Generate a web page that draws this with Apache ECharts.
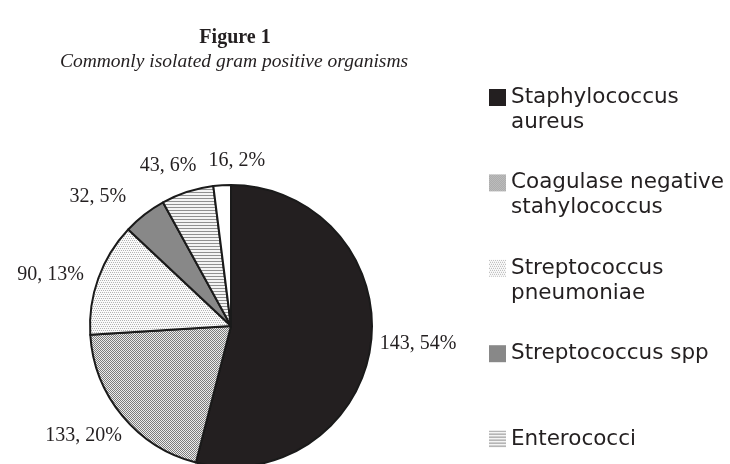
<!DOCTYPE html>
<html>
<head>
    <meta charset="utf-8">
    <title>Figure 1</title>
    <script src="https://cdn.jsdelivr.net/npm/echarts@6/dist/echarts.min.js"></script>
    <style>
        html, body { margin: 0; padding: 0; background: #fff; }
    </style>
</head>
<body>
    <div id="main" style="width: 730px;height:464px;"></div>
    <script type="text/javascript">
        // slice data, clockwise from 12 o'clock
        var names = ['Staphylococcus aureus', 'Coagulase negative stahylococcus', 'Streptococcus pneumoniae', 'Streptococcus spp', 'Enterococci', 'Others'];
        var counts = [143, 133, 90, 32, 43, 16];
        var percents = [54, 20, 13, 5, 6, 2];
        // legend text as printed (last slice has no legend entry visible)
        var legendLabels = ['Staphylococcus\naureus', 'Coagulase negative\nstahylococcus', 'Streptococcus\npneumoniae', 'Streptococcus spp', 'Enterococci'];

        // small canvas fill patterns, like the print version
        function makePattern(size, draw) {
            var c = document.createElement('canvas');
            c.width = size;
            c.height = size;
            var ctx = c.getContext('2d');
            draw(ctx, size);
            return { image: c, repeat: 'repeat' };
        }
        var checker = makePattern(4, function (ctx, s) {
            ctx.fillStyle = '#ececec';
            ctx.fillRect(0, 0, s, s);
            ctx.fillStyle = '#7c7c7c';
            for (var y = 0; y < s; y++) {
                for (var x = 0; x < s; x++) {
                    if ((x + y) % 2 === 0) ctx.fillRect(x, y, 1, 1);
                }
            }
        });
        var lightDots = makePattern(4, function (ctx, s) {
            ctx.fillStyle = '#fafafa';
            ctx.fillRect(0, 0, s, s);
            ctx.fillStyle = '#b4b4b4';
            for (var y = 0; y < s; y += 2) {
                for (var x = 0; x < s; x += 2) {
                    ctx.fillRect(x + (y / 2) % 2, y, 1, 1);
                }
            }
        });
        var stripes = makePattern(6, function (ctx, s) {
            ctx.fillStyle = '#f4f4f4';
            ctx.fillRect(0, 0, s, s);
            ctx.fillStyle = '#909090';
            ctx.fillRect(0, 0, s, 1);
            ctx.fillRect(0, 3, s, 1);
        });
        var fills = ['#231f20', checker, lightDots, '#888888', stripes, '#ffffff'];

        // per-slice label placement, mimicking the "outside end" labels of the original
        var labelTweaks = [
            { line: 4 },
            { line: 16, dist: -12, layout: { verticalAlign: 'top' } },
            { line: 10 },
            { line: 22 },
            { line: 27, dist: 11, layout: { align: 'center' } },
            { line: 25, dist: 12, layout: { align: 'left' } }
        ];

        var pieData = [];
        for (var i = 0; i < names.length; i++) {
            var item = {
                name: names[i],
                value: percents[i],
                itemStyle: { color: fills[i] },
                labelLine: { show: false, length: labelTweaks[i].line, length2: 0 }
            };
            if (labelTweaks[i].dist !== undefined) {
                item.label = { distanceToLabelLine: labelTweaks[i].dist };
            }
            pieData.push(item);
        }

        var legendData = [];
        for (var j = 0; j < legendLabels.length; j++) {
            legendData.push(names[j]);
        }

        var option = {
            animation: false,
            title: [{
                text: 'Figure 1',
                left: 235,
                top: 28,
                padding: 0,
                textAlign: 'center',
                textStyle: {
                    fontFamily: 'Liberation Serif',
                    fontWeight: 'bold',
                    fontSize: 20,
                    color: '#231f20'
                }
            }, {
                text: 'Commonly isolated gram positive organisms',
                left: 234,
                top: 52,
                padding: 0,
                textAlign: 'center',
                textStyle: {
                    fontFamily: 'Liberation Serif',
                    fontStyle: 'italic',
                    fontWeight: 'normal',
                    fontSize: 19.5,
                    color: '#231f20'
                }
            }],
            legend: {
                orient: 'vertical',
                left: 489,
                top: 60,
                height: 440,
                padding: 0,
                itemWidth: 17,
                itemHeight: 17,
                itemGap: 10.4,
                selectedMode: false,
                icon: 'rect',
                data: legendData,
                // blank line before (and after, for one-line names) keeps the
                // icon level with the first line of text
                formatter: function (name) {
                    var t = legendLabels[names.indexOf(name)];
                    return '\n' + t + (t.indexOf('\n') >= 0 ? '' : '\n');
                },
                itemStyle: { borderWidth: 0 },
                textStyle: {
                    fontFamily: 'DejaVu Sans',
                    fontSize: 21.5,
                    lineHeight: 25,
                    color: '#231f20'
                }
            },
            series: [{
                type: 'pie',
                center: [231, 326],
                radius: 141,
                startAngle: 90,
                clockwise: true,
                avoidLabelOverlap: false,
                data: pieData,
                itemStyle: {
                    borderColor: '#1a1a1a',
                    borderWidth: 2
                },
                emphasis: { disabled: true },
                label: {
                    show: true,
                    position: 'outside',
                    fontFamily: 'Liberation Serif',
                    fontSize: 20,
                    color: '#231f20',
                    formatter: function (p) {
                        return counts[p.dataIndex] + ', ' + p.value + '%';
                    }
                },
                labelLayout: function (p) {
                    return labelTweaks[p.dataIndex].layout || {};
                }
            }]
        };

        var myChart = echarts.init(document.getElementById('main'));
        myChart.setOption(option);
    </script>
</body>
</html>
